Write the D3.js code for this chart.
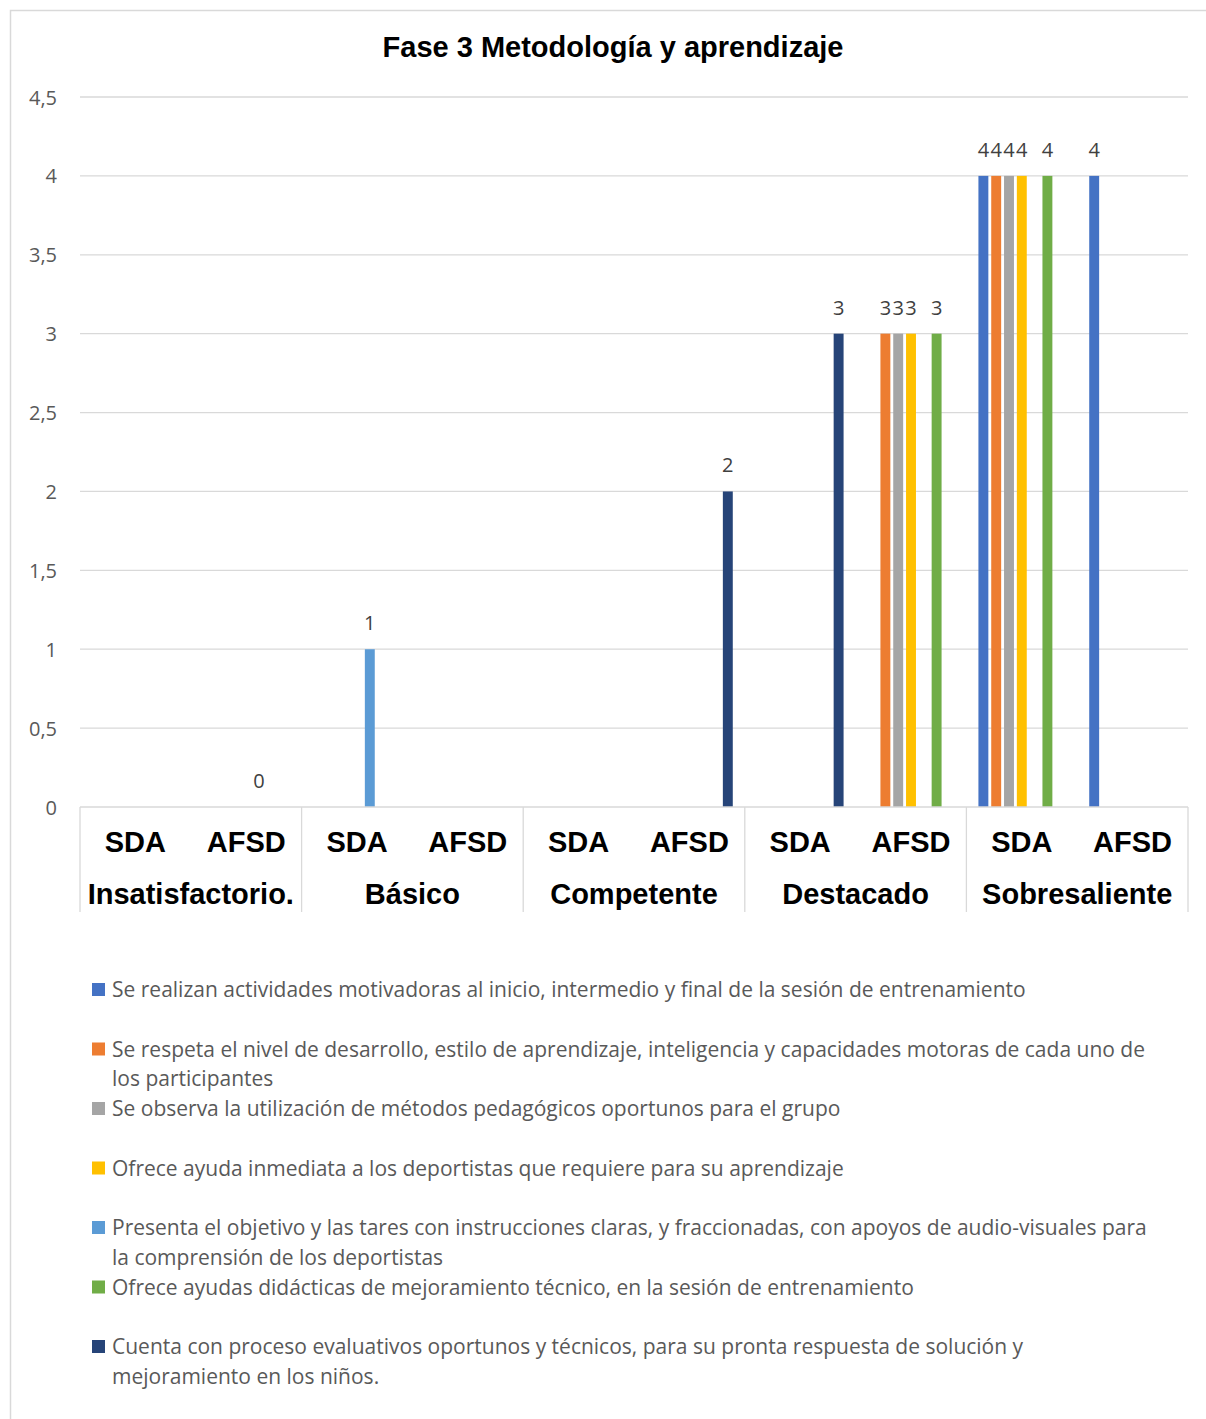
<!DOCTYPE html>
<html>
<head>
<meta charset="utf-8">
<script src="https://cdn.jsdelivr.net/npm/d3@7"></script>
<style>
  html, body { margin: 0; padding: 0; background: #fff; }
  svg { display: block; }
  .lbl { font-family: "Open Sans", Lato, sans-serif; }
  .bold { font-family: "Liberation Sans", Arial, sans-serif; font-weight: bold; }
</style>
</head>
<body>
<svg id="chart" width="1206" height="1419"></svg>
<script>
// Chart data
const title = "Fase 3 Metodología y aprendizaje";
const groups = ["Insatisfactorio.", "Básico", "Competente", "Destacado", "Sobresaliente"];
const subgroups = ["SDA", "AFSD"];
const yTicks = [0, 0.5, 1, 1.5, 2, 2.5, 3, 3.5, 4, 4.5];

const seriesNames = [
  "Se realizan actividades motivadoras al inicio, intermedio y final de la sesión de entrenamiento",
  "Se respeta el nivel de desarrollo, estilo de aprendizaje, inteligencia y capacidades motoras de cada uno de\nlos participantes",
  "Se observa la utilización de métodos pedagógicos oportunos para el grupo",
  "Ofrece ayuda inmediata a los deportistas que requiere para su aprendizaje",
  "Presenta el objetivo y las tares con instrucciones claras, y fraccionadas, con apoyos de audio-visuales para\nla comprensión de los deportistas",
  "Ofrece ayudas didácticas de mejoramiento técnico, en la sesión de entrenamiento",
  "Cuenta con proceso evaluativos oportunos y técnicos, para su pronta respuesta de solución y\nmejoramiento en los niños."
];
const seriesColors = ["#4472C4", "#ED7D31", "#A5A5A5", "#FFC000", "#5B9BD5", "#70AD47", "#264478"];

// One value per category (group × subgroup, in order); null = no bar
const motivadoras   = [null, null, null, null, null, null, null, null, 4, 4];
const nivel         = [null, null, null, null, null, null, null, 3, 4, null];
const metodos       = [null, null, null, null, null, null, null, 3, 4, null];
const ayudaInmed    = [null, null, null, null, null, null, null, 3, 4, null];
const objetivo      = [null, 0, 1, null, null, null, null, null, null, null];
const didacticas    = [null, null, null, null, null, null, null, 3, 4, null];
const evaluativos   = [null, null, null, null, null, 2, 3, null, null, null];
const seriesValues = [motivadoras, nivel, metodos, ayudaInmed, objetivo, didacticas, evaluativos];

const categories = [];
groups.forEach(g => subgroups.forEach(s => categories.push(g + "|" + s)));

const svg = d3.select("#chart");

// Outer chart frame
svg.append("rect")
  .attr("x", 10.5).attr("y", 10.5)
  .attr("width", 1220).attr("height", 1440)
  .attr("fill", "#fff").attr("stroke", "#d9d9d9").attr("stroke-width", 1.5);

const plot = { left: 80, right: 1188, top: 97, bottom: 807 };

const x0 = d3.scaleBand().domain(categories).range([plot.left, plot.right]).padding(0);
const y = d3.scaleLinear().domain([0, 4.5]).range([plot.bottom, plot.top]);
const gx = d3.scaleBand().domain(groups).range([plot.left, plot.right]).padding(0);

// Series positions inside one category
const span = x0.bandwidth() * 0.783;
const x1 = d3.scaleBand().domain(d3.range(seriesValues.length))
  .range([-span / 2, span / 2]).paddingInner(0.225).paddingOuter(0);

// Title
svg.append("text").attr("class", "bold")
  .attr("x", 613).attr("y", 57)
  .attr("text-anchor", "middle")
  .attr("font-size", 29).attr("fill", "#000")
  .text(title);

// Gridlines
svg.append("g").selectAll("line")
  .data(yTicks.filter(t => t > 0))
  .join("line")
  .attr("x1", plot.left).attr("x2", plot.right)
  .attr("y1", d => y(d)).attr("y2", d => y(d))
  .attr("stroke", "#d9d9d9").attr("stroke-width", 1.3);

// Y axis labels
const yAxis = d3.axisLeft(y).tickValues(yTicks).tickSize(0).tickPadding(0)
  .tickFormat(d => d3.format("")(d).replace(".", ","));
const yg = svg.append("g").attr("transform", `translate(57,0)`).call(yAxis);
yg.select(".domain").remove();
yg.selectAll("text").attr("class", "lbl").attr("font-size", 20).attr("fill", "#595959").attr("dy", "0.35em");

// Bars
const barsData = [];
seriesValues.forEach((vals, si) => vals.forEach((v, ci) => {
  if (v !== null) barsData.push({ si, ci, v });
}));

const barG = svg.append("g");
barG.selectAll("rect").data(barsData).join("rect")
  .attr("x", d => x0(categories[d.ci]) + x0.bandwidth() / 2 + x1(d.si))
  .attr("width", x1.bandwidth())
  .attr("y", d => y(d.v))
  .attr("height", d => y(0) - y(d.v))
  .attr("fill", d => seriesColors[d.si]);

// Value labels
barG.selectAll("text").data(barsData).join("text")
  .attr("class", "lbl")
  .attr("x", d => x0(categories[d.ci]) + x0.bandwidth() / 2 + x1(d.si) + x1.bandwidth() / 2)
  .attr("y", d => y(d.v) - 19)
  .attr("text-anchor", "middle")
  .attr("font-size", 20).attr("fill", "#404040")
  .text(d => d.v);

// Category axis: baseline and group separators
const axisG = svg.append("g");
axisG.append("line")
  .attr("x1", plot.left).attr("x2", plot.right)
  .attr("y1", plot.bottom).attr("y2", plot.bottom)
  .attr("stroke", "#d9d9d9").attr("stroke-width", 1.3);
axisG.selectAll("line.sep").data(groups.map(g => gx(g)).concat([plot.right]))
  .join("line").attr("class", "sep")
  .attr("x1", d => d).attr("x2", d => d)
  .attr("y1", plot.bottom).attr("y2", 912)
  .attr("stroke", "#d9d9d9").attr("stroke-width", 1.3);

axisG.selectAll("text.sub").data(categories).join("text")
  .attr("class", "sub bold")
  .attr("x", d => x0(d) + x0.bandwidth() / 2)
  .attr("y", 852)
  .attr("text-anchor", "middle")
  .attr("font-size", 29).attr("fill", "#000")
  .text(d => d.split("|")[1]);

axisG.selectAll("text.grp").data(groups).join("text")
  .attr("class", "grp bold")
  .attr("x", d => gx(d) + gx.bandwidth() / 2)
  .attr("y", 904)
  .attr("text-anchor", "middle")
  .attr("font-size", 29).attr("fill", "#000")
  .text(d => d);

// Legend
const legend = svg.append("g").attr("transform", "translate(92,990)");
const item = legend.selectAll("g").data(seriesNames).join("g")
  .attr("transform", (d, i) => `translate(0,${i * 59.5})`);
item.append("rect")
  .attr("x", 0).attr("y", -7).attr("width", 13).attr("height", 13)
  .attr("fill", (d, i) => seriesColors[i]);
item.append("text").attr("class", "lbl")
  .attr("font-size", 21).attr("fill", "#595959")
  .selectAll("tspan").data(d => d.split("\n")).join("tspan")
  .attr("x", 20).attr("y", (d, i) => i * 29.5)
  .attr("dy", "0.35em")
  .text(d => d);
</script>
</body>
</html>
